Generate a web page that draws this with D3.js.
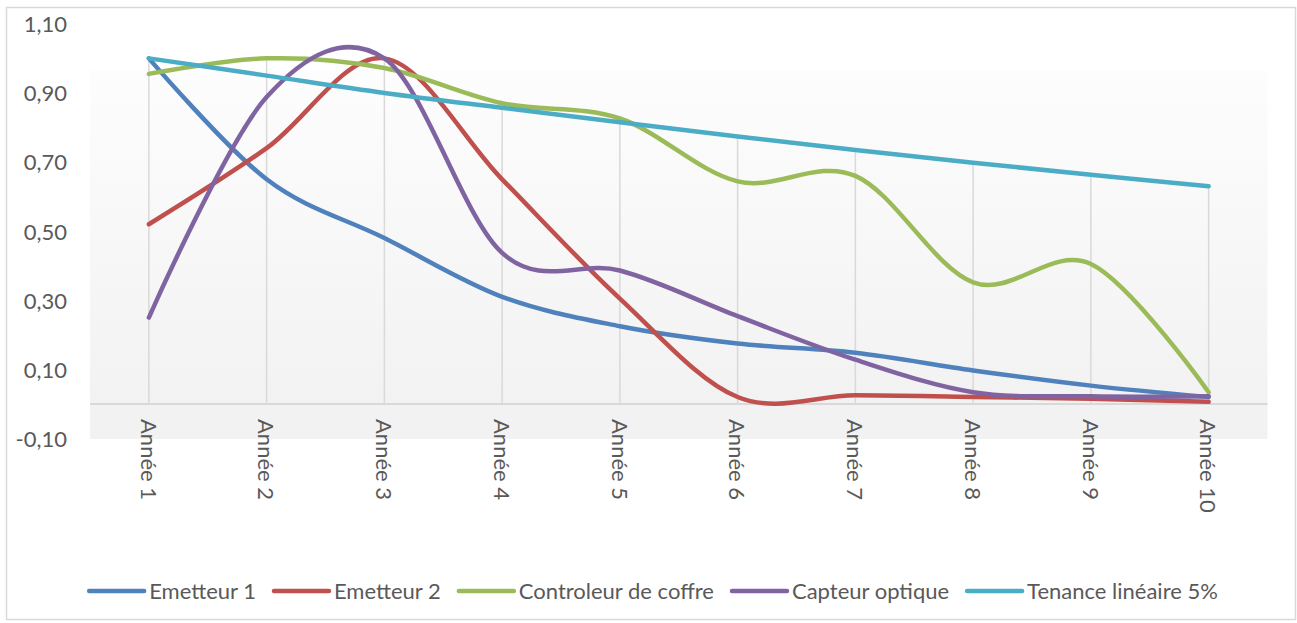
<!DOCTYPE html>
<html>
<head>
<meta charset="utf-8">
<script src="https://cdn.jsdelivr.net/npm/d3@7"></script>
<style>
  html, body { margin: 0; padding: 0; background: #ffffff; }
  svg { display: block; }
  text { font-family: Lato, "Noto Sans", sans-serif; fill: #595959; }
</style>
</head>
<body>
<svg id="chart" width="1297" height="623"></svg>
<script>
// ---- data ----
const categories = ["Année 1","Année 2","Année 3","Année 4","Année 5","Année 6","Année 7","Année 8","Année 9","Année 10"];
const emetteur1  = [1.00, 0.65, 0.48, 0.31, 0.225, 0.175, 0.148, 0.097, 0.053, 0.02];
const emetteur2  = [0.52, 0.74, 1.00, 0.65, 0.305, 0.02, 0.025, 0.02, 0.015, 0.006];
const controleur = [0.955, 1.00, 0.972, 0.87, 0.826, 0.644, 0.66, 0.352, 0.405, 0.034];
const capteur    = [0.25, 0.888, 1.00, 0.437, 0.386, 0.254, 0.128, 0.034, 0.022, 0.022];
const tenance    = [1.00, 0.95, 0.90, 0.857, 0.815, 0.774, 0.735, 0.698, 0.663, 0.63];
const seriesNames = ["Emetteur 1","Emetteur 2","Controleur de coffre","Capteur optique","Tenance linéaire 5%"];
const seriesColors = ["#4f81bd","#c0504d","#9bbb59","#8064a2","#4bacc6"];
const yTicks = [-0.10, 0.10, 0.30, 0.50, 0.70, 0.90, 1.10];

const seriesValues = [emetteur1, emetteur2, controleur, capteur, tenance];
const series = seriesNames.map((n, i) => ({ name: n, color: seriesColors[i], values: seriesValues[i] }));

const svg = d3.select("#chart");
const W = 1297, H = 623;

// outer border
svg.append("rect").attr("x", 6.5).attr("y", 7.5).attr("width", 1289).attr("height", 612)
  .attr("fill", "#ffffff").attr("stroke", "#d9d9d9").attr("stroke-width", 1.5);

const plotLeft = 90, plotRight = 1267.5;
const x = d3.scaleBand().domain(categories).range([plotLeft, plotRight]).padding(0);
const cx = c => x(c) + x.bandwidth() / 2;
const y = d3.scaleLinear().domain([-0.10, 1.10]).range([438.5, 23.8]);

// background gradient
const defs = svg.append("defs");
const grad = defs.append("linearGradient").attr("id", "bg").attr("x1", 0).attr("y1", 0).attr("x2", 0).attr("y2", 1);
grad.append("stop").attr("offset", "0%").attr("stop-color", "#fdfdfd");
grad.append("stop").attr("offset", "90%").attr("stop-color", "#f2f2f2");
grad.append("stop").attr("offset", "100%").attr("stop-color", "#f2f2f2");
svg.append("rect").attr("x", plotLeft).attr("y", 70).attr("width", plotRight - plotLeft).attr("height", 439 - 70)
  .attr("fill", "url(#bg)");

// drop lines (from max value at each category down to zero)
const g = svg.append("g");
g.selectAll("line.drop").data(categories).join("line").attr("class", "drop")
  .attr("x1", d => cx(d)).attr("x2", d => cx(d))
  .attr("y1", (d, i) => y(d3.max(series, s => s.values[i])))
  .attr("y2", y(0))
  .attr("stroke", "#d9d9d9").attr("stroke-width", 1.5);

// zero line
svg.append("line").attr("x1", plotLeft).attr("x2", plotRight).attr("y1", y(0)).attr("y2", y(0))
  .attr("stroke", "#d9d9d9").attr("stroke-width", 2);

// y axis labels
const yAxis = d3.axisLeft(y).tickValues(yTicks).tickSize(0).tickPadding(0)
  .tickFormat(v => d3.format(".2f")(v).replace(".", ",").replace("−", "-"));
const ya = svg.append("g").attr("transform", "translate(67,0)").call(yAxis);
ya.select(".domain").remove();
ya.selectAll("text").attr("font-size", 22).attr("fill", "#595959")
  .style("font-family", "Lato, 'Noto Sans', sans-serif").attr("dy", "0.36em");

// x axis labels (rotated)
const xAxis = d3.axisBottom(x).tickSize(0).tickPadding(0);
const xa = svg.append("g").attr("transform", `translate(0,${419})`).call(xAxis);
xa.select(".domain").remove();
xa.selectAll("text").attr("font-size", 22).attr("fill", "#595959")
  .style("font-family", "Lato, 'Noto Sans', sans-serif")
  .attr("text-anchor", "start").attr("transform", "rotate(90)")
  .attr("x", 0).attr("y", 0).attr("dy", "0.38em");

// lines
const line = d3.line().x((d, i) => cx(categories[i])).y(d => y(d)).curve(d3.curveCardinal.tension(0));
svg.append("g").selectAll("path").data(series).join("path")
  .attr("d", d => line(d.values)).attr("fill", "none")
  .attr("stroke", d => d.color).attr("stroke-width", 4.5)
  .attr("stroke-linecap", "round").attr("stroke-linejoin", "round");

// legend
const lg = svg.append("g");
const items = lg.selectAll("g").data(series).join("g");
items.append("line").attr("x1", 0).attr("x2", 55).attr("y1", 0).attr("y2", 0)
  .attr("stroke", d => d.color).attr("stroke-width", 4.5).attr("stroke-linecap", "round");
items.append("text").attr("x", 60).attr("y", 0).attr("dy", "0.36em").attr("font-size", 22)
  .text(d => d.name);
const widths = [];
items.each(function() {
  const tw = d3.select(this).select("text").node().getComputedTextLength();
  widths.push(60 + tw);
});
const total = d3.sum(widths) + 18 * (widths.length - 1);
let start = 653.5 - total / 2;
items.attr("transform", (d, i) => {
  const t = `translate(${start},591)`;
  start += widths[i] + 18;
  return t;
});
</script>
</body>
</html>
